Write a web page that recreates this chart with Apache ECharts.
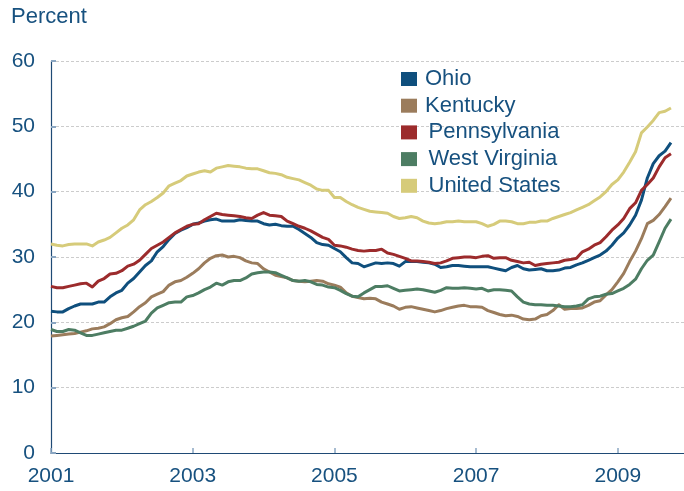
<!DOCTYPE html>
<html>
<head>
<meta charset="utf-8">
<script src="https://cdn.jsdelivr.net/npm/echarts@6/dist/echarts.min.js"></script>
<style>
  html, body { margin: 0; padding: 0; background: #ffffff; }
  #chart { width: 684px; height: 491px; }
</style>
</head>
<body>
<div id="chart"></div>
<script>
// Monthly series, January 2001 through October 2009 (percent)
const startYear = 2001;

const ohio = [
  21.7, 21.6, 21.6, 22.1, 22.5, 22.8, 22.8, 22.8, 23.1, 23.1, 23.9, 24.5,
  24.9, 26.0, 26.7, 27.7, 28.7, 29.4, 30.8, 31.6, 32.7, 33.6, 34.1, 34.5,
  35.0, 35.2, 35.5, 35.7, 35.8, 35.5, 35.5, 35.5, 35.7, 35.6, 35.5, 35.5,
  35.1, 34.9, 35.0, 34.8, 34.7, 34.7, 34.2, 33.6, 33.0, 32.2, 31.9, 31.8,
  31.3, 30.8, 29.9, 29.1, 29.0, 28.5, 28.8, 29.1, 29.0, 29.1, 29.0, 28.6,
  29.3, 29.3, 29.3, 29.2, 29.1, 28.9, 28.4, 28.5, 28.7, 28.7, 28.6, 28.5,
  28.5, 28.5, 28.5, 28.3, 28.1, 27.9, 28.4, 28.7, 28.2, 28.0, 28.1, 28.2,
  27.9, 27.9, 28.0, 28.3, 28.4, 28.8, 29.1, 29.5, 29.9, 30.3, 30.9, 31.8,
  32.9, 33.7, 34.9, 36.4, 38.7, 42.1, 44.3, 45.5, 46.2, 47.5
];

const kentucky = [
  17.9, 18.0, 18.1, 18.2, 18.3, 18.5, 18.7, 19.0, 19.1, 19.3, 19.8, 20.4,
  20.7, 20.9, 21.6, 22.4, 23.0, 23.9, 24.3, 24.7, 25.7, 26.2, 26.4, 26.9,
  27.5, 28.2, 29.1, 29.8, 30.2, 30.3, 30.0, 30.1, 29.9, 29.4, 29.1, 29.0,
  28.2, 27.7, 27.2, 27.0, 26.8, 26.4, 26.3, 26.2, 26.3, 26.4, 26.3, 25.9,
  25.7, 25.4, 24.5, 24.0, 23.8, 23.6, 23.7, 23.6, 23.1, 22.8, 22.5, 22.0,
  22.3, 22.4, 22.2, 22.0, 21.8, 21.6, 21.8, 22.1, 22.3, 22.5, 22.6, 22.4,
  22.4, 22.3, 21.8, 21.5, 21.2, 21.0, 21.1, 20.9, 20.5, 20.4, 20.5, 21.0,
  21.2, 21.8, 22.7, 22.0, 22.1, 22.1, 22.2, 22.6, 23.1, 23.3, 24.2, 25.0,
  26.2, 27.5, 29.3, 30.9, 32.8, 35.1, 35.6, 36.5, 37.7, 39.0
];

const pennsylvania = [
  25.5, 25.3, 25.3, 25.5, 25.7, 25.9, 26.0, 25.4, 26.3, 26.7, 27.4, 27.5,
  27.9, 28.6, 28.9, 29.5, 30.4, 31.3, 31.8, 32.3, 33.0, 33.7, 34.2, 34.7,
  35.0, 35.1, 35.7, 36.2, 36.7, 36.5, 36.4, 36.3, 36.2, 36.0, 35.9, 36.4,
  36.8, 36.4, 36.3, 36.2, 35.5, 35.1, 34.7, 34.4, 34.0, 33.5, 33.0, 32.7,
  31.8, 31.7, 31.5, 31.2, 31.0, 30.9, 31.0, 31.0, 31.2, 30.6, 30.4, 30.1,
  29.8, 29.4, 29.4, 29.3, 29.2, 29.0, 29.1, 29.4, 29.8, 29.9, 30.0, 30.0,
  29.9, 30.1, 30.2, 29.8, 29.9, 29.9, 29.5, 29.3, 29.1, 29.2, 28.7, 28.9,
  29.0, 29.1, 29.2, 29.5, 29.6, 29.8, 30.8, 31.2, 31.8, 32.2, 33.1, 34.1,
  34.9, 35.9, 37.4, 38.3, 40.2, 41.1, 42.1, 43.8, 45.2, 45.8
];

const westVirginia = [
  18.9, 18.6, 18.6, 18.9, 18.8, 18.4, 18.0, 18.0, 18.2, 18.4, 18.6, 18.8,
  18.8, 19.1, 19.4, 19.8, 20.2, 21.4, 22.2, 22.6, 23.0, 23.1, 23.1, 23.9,
  24.1, 24.5, 25.0, 25.4, 26.0, 25.7, 26.2, 26.4, 26.4, 26.8, 27.4, 27.6,
  27.7, 27.7, 27.6, 27.2, 26.8, 26.4, 26.3, 26.4, 26.2, 25.8, 25.7, 25.4,
  25.3, 24.9, 24.4, 24.0, 23.9, 24.5, 25.0, 25.5, 25.5, 25.6, 25.2, 24.8,
  24.9, 25.0, 25.1, 25.0, 24.8, 24.6, 24.9, 25.3, 25.2, 25.2, 25.3, 25.2,
  25.1, 25.2, 24.8, 25.0, 25.0, 24.9, 24.8, 23.9, 23.1, 22.8, 22.7, 22.7,
  22.6, 22.6, 22.5, 22.4, 22.4, 22.5, 22.7, 23.6, 23.9, 24.0, 24.3, 24.4,
  24.8, 25.2, 25.8, 26.6, 28.2, 29.5, 30.3, 32.3, 34.4, 35.8
];

const unitedStates = [
  32.0, 31.8, 31.7, 31.9, 32.0, 32.0, 32.0, 31.7, 32.3, 32.6, 33.0, 33.7,
  34.4, 34.9, 35.7, 37.2, 38.0, 38.5, 39.1, 39.8, 40.9, 41.3, 41.7, 42.4,
  42.7, 43.0, 43.2, 43.0, 43.6, 43.8, 44.0, 43.9, 43.8, 43.6, 43.5, 43.5,
  43.2, 42.9, 42.8, 42.6, 42.2, 42.0, 41.8, 41.4, 41.0, 40.4, 40.2, 40.2,
  39.1, 39.1, 38.5, 38.0, 37.6, 37.3, 37.0, 36.9, 36.8, 36.7, 36.2, 35.9,
  36.0, 36.2, 36.0, 35.5, 35.2, 35.1, 35.2, 35.4, 35.4, 35.5, 35.4, 35.4,
  35.4, 35.1, 34.7, 35.0, 35.5, 35.5, 35.4, 35.1, 35.1, 35.3, 35.3, 35.5,
  35.5, 35.9, 36.2, 36.5, 36.8, 37.2, 37.6, 38.0, 38.6, 39.2, 40.0, 41.1,
  41.8, 43.0, 44.5, 46.1, 49.0, 49.9, 50.9, 52.1, 52.3, 52.8
];

const seriesNames = ['Ohio', 'Kentucky', 'Pennsylvania', 'West Virginia', 'United States'];
const seriesColors = ['#0f4f7d', '#9b7c5c', '#9c2b2c', '#4d7d63', '#d6cb7a'];
const yTicks = [0, 10, 20, 30, 40, 50, 60];
const xTickYears = [2001, 2003, 2005, 2007, 2009];

const textColor = '#17517f';
const fontFamily = '"Liberation Sans", Arial, sans-serif';

// Pair each monthly value with its fractional-year position on the time axis
function toPoints(values) {
  return values.map((v, i) => [startYear + i / 12, v]);
}

const allValues = [ohio, kentucky, pennsylvania, westVirginia, unitedStates];

const chart = echarts.init(document.getElementById('chart'), null, { renderer: 'canvas' });

chart.setOption({
  animation: false,
  backgroundColor: '#ffffff',
  textStyle: { fontFamily: fontFamily },
  graphic: [{
    type: 'text',
    left: 11,
    top: 6,
    style: { text: 'Percent', fill: textColor, font: '22px ' + fontFamily }
  }],
  legend: {
    orient: 'vertical',
    left: 396,
    top: 63,
    itemWidth: 16,
    itemHeight: 14,
    itemGap: 4.7,
    icon: 'rect',
    selectedMode: false,
    textStyle: { color: textColor, fontSize: 22, lineHeight: 22, fontFamily: fontFamily },
    data: seriesNames.map((name, i) => ({
      name: name,
      itemStyle: { color: seriesColors[i] },
      textStyle: { padding: [0, 0, 0, i < 2 ? 3 : 6.5] }
    }))
  },
  grid: { left: 51, right: 0, top: 61, bottom: 38, containLabel: false },
  xAxis: {
    type: 'value',
    min: xTickYears[0],
    max: 2009.934,
    interval: xTickYears[1] - xTickYears[0],
    axisLine: { show: true, onZero: false, lineStyle: { color: '#1f4a75', width: 1.2 } },
    axisTick: { show: true, inside: true, length: 5, lineStyle: { color: '#8aa6c2', width: 1.5 } },
    axisLabel: {
      color: textColor, fontSize: 21, margin: 13, fontFamily: fontFamily,
      showMaxLabel: false,
      formatter: v => String(Math.round(v))
    },
    splitLine: { show: false }
  },
  yAxis: {
    type: 'value',
    min: yTicks[0],
    max: yTicks[yTicks.length - 1],
    interval: yTicks[1] - yTicks[0],
    axisLine: { show: true, lineStyle: { color: '#1f4a75', width: 1.2 } },
    axisTick: { show: true, inside: true, length: 5, lineStyle: { color: '#8aa6c2', width: 2 } },
    axisLabel: { color: textColor, fontSize: 21, margin: 16, fontFamily: fontFamily },
    splitLine: { show: true, lineStyle: { color: '#cccccc', width: 1, type: [3, 2] } }
  },
  series: seriesNames.map((name, i) => ({
    name: name,
    type: 'line',
    data: toPoints(allValues[i]),
    showSymbol: false,
    symbol: 'none',
    smooth: false,
    color: seriesColors[i],
    lineStyle: { color: seriesColors[i], width: 3, join: 'round' },
    emphasis: { disabled: true }
  }))
});
</script>
</body>
</html>
